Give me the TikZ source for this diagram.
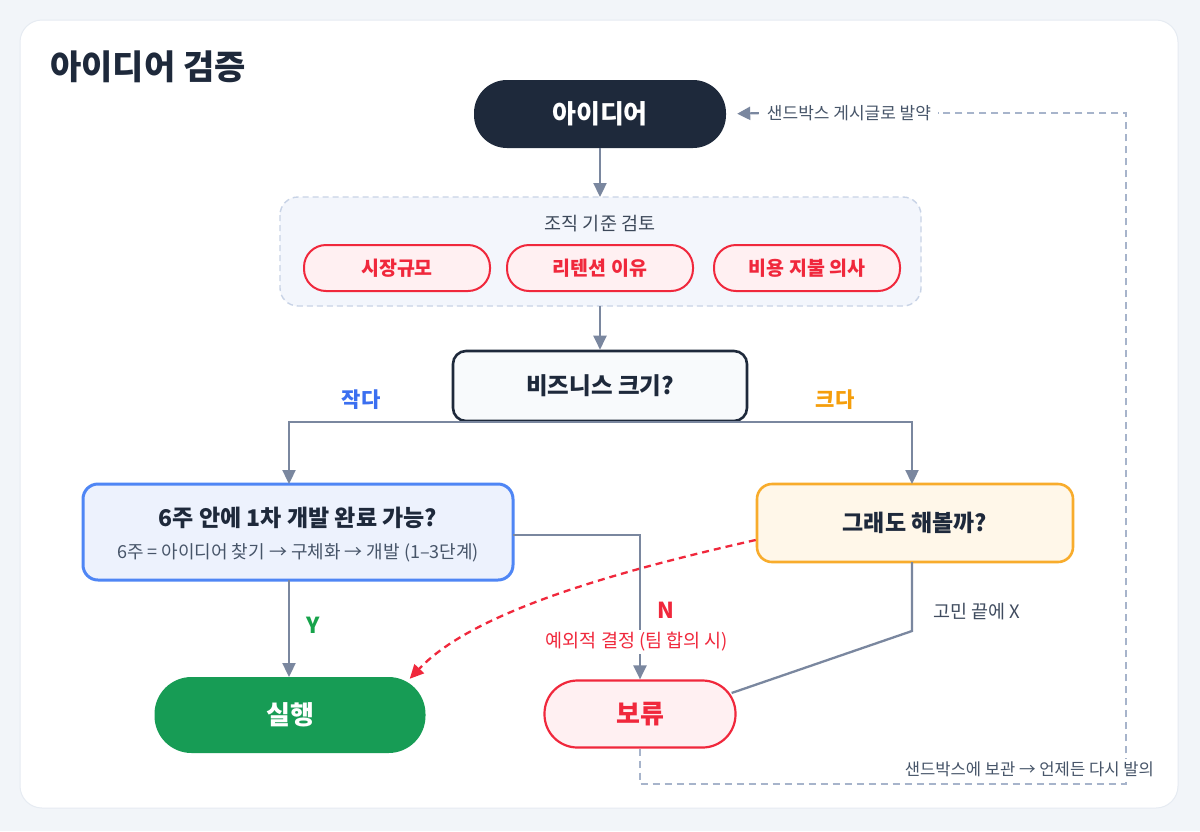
\documentclass[tikz,border=0pt]{standalone}
\usepackage{fontspec}
\setmainfont{Noto Sans CJK KR}
\usetikzlibrary{arrows.meta,calc}
\definecolor{bg}{HTML}{F2F5F9}
\definecolor{cardline}{HTML}{E6EBF2}
\definecolor{navy}{HTML}{1E293B}
\definecolor{slate}{HTML}{7A879F}
\definecolor{loopc}{HTML}{A7B4CB}
\definecolor{grpfill}{HTML}{F3F6FC}
\definecolor{grpline}{HTML}{C8D3E6}
\definecolor{redc}{HTML}{F0283C}
\definecolor{redfill}{HTML}{FFF0F2}
\definecolor{bluec}{HTML}{4F86F5}
\definecolor{bluefill}{HTML}{EDF2FD}
\definecolor{orangec}{HTML}{F8AC2C}
\definecolor{orangefill}{HTML}{FFF7E9}
\definecolor{greenc}{HTML}{179C55}
\definecolor{txtgrey}{HTML}{475569}
\definecolor{bizfill}{HTML}{F8FAFC}
\definecolor{lblblue}{HTML}{3B6FF0}
\definecolor{lblorange}{HTML}{F59E0B}
\definecolor{lblgreen}{HTML}{16A34A}
\begin{document}
\begin{tikzpicture}[x=1pt,y=-1pt,
  tip/.style={-{Triangle[length=14pt,width=13pt]}},
  arr/.style={draw=slate, line width=2.3pt, tip},
  plainline/.style={draw=slate, line width=2.3pt},
  pillred/.style={draw=redc, fill=redfill, line width=2pt, rounded corners=22pt,
    minimum width=186pt, minimum height=46pt, inner sep=0pt, text=redc,
    font=\fontsize{19.5}{19.5}\selectfont\bfseries},
  smalltxt/.style={text=txtgrey, inner sep=0pt, font=\fontsize{17}{17}\selectfont},
  boldlbl/.style={inner sep=0pt, font=\fontsize{21}{21}\selectfont\bfseries},
  loopdash/.style={draw=loopc, line width=1.6pt, dash pattern=on 7pt off 5pt},
]
\useasboundingbox (0,0) rectangle (1200,831);
\fill[bg] (0,0) rectangle (1200,831);
\filldraw[fill=white, draw=cardline, line width=1pt, rounded corners=22pt] (20,20) rectangle (1178,808);

% title
\node[anchor=west, inner sep=0pt, text=navy, font=\fontsize{34}{34}\selectfont\bfseries] (title) at (50,67) {아이디어 검증};

% idea
\node[fill=navy, rounded corners=33pt, minimum width=252pt, minimum height=68pt, inner sep=0pt,
  text=white, font=\fontsize{26}{26}\selectfont\bfseries] (idea) at (600,114) {아이디어};

% group
\filldraw[fill=grpfill, draw=grpline, line width=1.4pt, dash pattern=on 6pt off 4pt, rounded corners=18pt]
  (280,197) rectangle (921,306);
\node[inner sep=0pt, text=txtgrey!85!black, font=\fontsize{18.5}{18.5}\selectfont] (grptitle) at (600,224) {조직 기준 검토};
\coordinate (grptop) at (600,197);
\coordinate (grpbot) at (600,306);
\node[pillred] (p1) at (397,268) {시장규모};
\node[pillred] (p2) at (600,268) {리텐션 이유};
\node[pillred] (p3) at (807,268) {비용 지불 의사};

% business size
\node[draw=navy, fill=bizfill, line width=2.6pt, rounded corners=13pt,
  minimum width=294pt, minimum height=70pt, inner sep=0pt, text=navy,
  font=\fontsize{23.5}{23.5}\selectfont\bfseries] (biz) at (600,386) {비즈니스 크기?};

% six weeks
\node[draw=bluec, fill=bluefill, line width=3pt, rounded corners=15pt,
  minimum width=430pt, minimum height=96pt, inner sep=0pt] (six) at (298,532) {};
\node[inner sep=0pt, text=navy, font=\fontsize{23}{23}\selectfont\bfseries] (sixt) at (298,518) {6주 안에 1차 개발 완료 가능?};
\node[smalltxt, font=\fontsize{18}{18}\selectfont] (sixs) at (298,553) {6주 = 아이디어 찾기 → 구체화 → 개발 (1–3단계)};

% still try
\node[draw=orangec, fill=orangefill, line width=2.6pt, rounded corners=15pt,
  minimum width=316pt, minimum height=78pt, inner sep=0pt, text=navy,
  font=\fontsize{23}{23}\selectfont\bfseries] (still) at (915,523) {그래도 해볼까?};

% run / hold
\node[fill=greenc, rounded corners=37pt, minimum width=271pt, minimum height=76pt, inner sep=0pt,
  text=white, font=\fontsize{26}{26}\selectfont\bfseries] (go) at (290,715) {실행};
\node[draw=redc, fill=redfill, line width=2.2pt, rounded corners=33pt, minimum width=191pt,
  minimum height=67pt, inner sep=0pt, text=redc, font=\fontsize{26}{26}\selectfont\bfseries] (hold) at (640,714) {보류};

% connectors
\draw[arr] (biz.south) -| (289,484);
\draw[arr] (biz.south) -| (912,484);
\draw[arr] (idea.south) -- (grptop);
\draw[arr] (grpbot) -- (biz.north);
\node[boldlbl, text=lblblue] (small) at (361,400) {작다};
\node[boldlbl, text=lblorange] (big) at (835,400) {크다};

\draw[arr] (289,580) -- (289,677);
\node[boldlbl, text=lblgreen, font=\fontsize{22}{22}\selectfont\bfseries] (ylbl) at (313,625) {Y};

\coordinate (nstart) at (513,535);
\draw[arr] (nstart) -| (hold.north);
\node[boldlbl, text=redc, font=\fontsize{22}{22}\selectfont\bfseries] (nlbl) at (666,610) {N};
\node[fill=white, inner sep=2pt, text=redc, font=\fontsize{18.5}{18.5}\selectfont] (exc) at (637,642) {예외적 결정 (팀 합의 시)};

% give up line
\coordinate (gbend) at (912,631);
\draw[plainline] (912,562) -- (gbend) -- ($(hold.east)+(-5,-21)$);
\node[smalltxt, text=txtgrey!90!black, font=\fontsize{18.5}{18.5}\selectfont] (giveup) at (977,612) {고민 끝에 X};

% exceptional dashed red curve
\draw[draw=redc, line width=2.3pt, dash pattern=on 7pt off 5pt, -{Triangle[length=14pt,width=13pt]}]
  ($(still.west)+(0,17)$) .. controls (600,575) and (470,615) .. ($(go.north east)+(-16,2)$);

% sandbox loop
\node[smalltxt, fill=white, inner sep=3pt] (sbpost) at (849,113) {샌드박스 게시글로 발약};
\coordinate (lc1) at (640,784);
\coordinate (lc2) at (1126,784);
\coordinate (lc3) at (1126,113);
\draw[loopdash] (hold.south) -- (lc1) -- (lc2) -- (lc3) -- ($(sbpost.east)+(4,0)$);
\draw[draw=slate, line width=2.2pt, -{Triangle[length=13pt,width=13pt]}, shorten <=5pt, shorten >=11pt] (sbpost.west) -- (idea.east);
\node[smalltxt, anchor=east, fill=white, inner sep=2pt, font=\fontsize{16.6}{16.6}\selectfont] (sbkeep) at (1156,769) {샌드박스에 보관 → 언제든 다시 발의};
\end{tikzpicture}
\end{document}
